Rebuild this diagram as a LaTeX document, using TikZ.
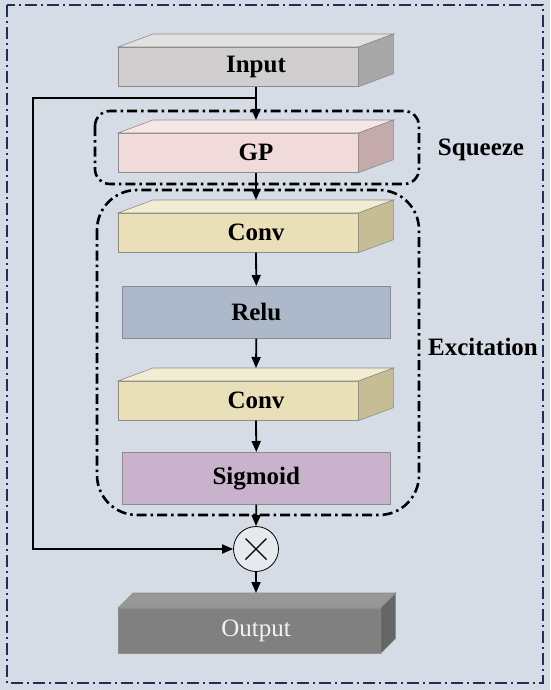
\documentclass[tikz,border=0pt]{standalone}
\usepackage{fontspec}
\setmainfont{Liberation Serif}
\usetikzlibrary{calc,arrows.meta}
\definecolor{bgc}{HTML}{D6DCE5}
\definecolor{framec}{HTML}{1F2F55}
\definecolor{edgec}{HTML}{8C8C8C}
\definecolor{inF}{HTML}{D0CECE}\definecolor{inT}{HTML}{E2E1E1}\definecolor{inS}{HTML}{A8A8A8}
\definecolor{gpF}{HTML}{F0DADA}\definecolor{gpT}{HTML}{F6E6E6}\definecolor{gpS}{HTML}{C5AAAB}
\definecolor{cvF}{HTML}{E9E0B9}\definecolor{cvT}{HTML}{F2ECD2}\definecolor{cvS}{HTML}{C7BD95}
\definecolor{reF}{HTML}{ADB9CA}
\definecolor{sgF}{HTML}{C9B2CB}
\definecolor{ouF}{HTML}{808080}\definecolor{ouT}{HTML}{979797}\definecolor{ouS}{HTML}{666666}
\tikzset{
  face/.style={draw=edgec, line width=0.6pt, inner sep=0pt, anchor=north west},
  lbl/.style={font=\fontsize{25}{29}\selectfont\bfseries, inner sep=0pt},
  olbl/.style={font=\fontsize{25}{29}\selectfont, text=white!95!black, inner sep=0pt},
  arr/.style={line width=1.8pt, -{Triangle[length=11pt,width=9pt]}},
  groupbox/.style={line width=2.6pt, dash pattern=on 10pt off 4pt on 2.5pt off 4pt},
  outerframe/.style={draw=framec, line width=1.5pt, dash pattern=on 12pt off 4pt on 2pt off 4pt}
}
% \mycube{name}{x}{y}{w}{h}{dx}{dy}{front}{top}
\newcommand{\mycube}[9]{%
  \node[face, fill=#8, minimum width=#4pt, minimum height=#5pt] (#1) at (#2,#3) {};
  \draw[draw=edgec, line width=0.6pt, fill=#9] (#1.north west) -- ++(#6,#7) -- ($(#1.north east)+(#6,#7)$) -- (#1.north east) -- cycle;
}
\newcommand{\myside}[4]{%
  \draw[draw=edgec, line width=0.6pt, fill=#4] (#1.north east) -- ++(#2,#3) -- ($(#1.south east)+(#2,#3)$) -- (#1.south east) -- cycle;
}
\begin{document}
\begin{tikzpicture}[x=1pt, y=-1pt]
\useasboundingbox (0,0) rectangle (550,690);
\fill[bgc] (0,0) rectangle (550,690);
\draw[outerframe] (7,5) rectangle (543,683);

% Input
\mycube{in}{118}{47}{240}{39}{35}{-13}{inF}{inT}
\myside{in}{35}{-13}{inS}
\node[lbl] (inL) at (256,66.5) {Input};
% GP
\mycube{gp}{118}{133}{240}{39}{35}{-13}{gpF}{gpT}
\myside{gp}{35}{-13}{gpS}
\node[lbl] (gpL) at (256,152.5) {GP};
\coordinate (gpB) at (256,120);
% Conv 1
\mycube{cv1}{118}{213}{240}{39}{35}{-13}{cvF}{cvT}
\myside{cv1}{35}{-13}{cvS}
\node[lbl] (cv1L) at (256,232.5) {Conv};
\coordinate (cv1B) at (256,200);
% Relu
\node[face, fill=reF, minimum width=268pt, minimum height=52pt] (re) at (122,286) {};
\node[lbl] (reL) at (re.center) {Relu};
% Conv 2
\mycube{cv2}{118}{381}{240}{39}{35}{-13}{cvF}{cvT}
\myside{cv2}{35}{-13}{cvS}
\node[lbl] (cv2L) at (256,400.5) {Conv};
\coordinate (cv2B) at (256,368);
% Sigmoid
\node[face, fill=sgF, minimum width=268pt, minimum height=52pt] (sg) at (122,452) {};
\node[lbl] (sgL) at (sg.center) {Sigmoid};
% Multiply
\node[circle, draw=black, line width=0.8pt, fill=bgc!60!white, minimum size=45pt, inner sep=0pt] (mul) at (256,549) {};
\draw[line width=1.2pt] ($(mul.center)+(-10.5,-10.5)$) -- ($(mul.center)+(10.5,10.5)$);
\draw[line width=1.2pt] ($(mul.center)+(-10.5,10.5)$) -- ($(mul.center)+(10.5,-10.5)$);
% Output
\mycube{ou}{118}{608}{262}{45}{15}{-15}{ouF}{ouT}
\myside{ou}{15}{-15}{ouS}
\node[olbl] (ouL) at (256,630.5) {Output};
\coordinate (ouB) at (256,593);

% group boxes
\draw[groupbox, rounded corners=15pt] (95,111) rectangle (419,184);
\draw[groupbox, rounded corners=40pt] (97,190) rectangle (419,515);
\node[lbl] (sq) at (481,150) {Squeeze};
\node[lbl] (ex) at (483,347) {Excitation};

% connectors
\coordinate (split) at (256,98);
\coordinate (fbB) at (33,549);
\draw[arr] (inL |- in.south) -- (gpB);
\draw[arr] (gpL |- gp.south) -- (cv1B);
\draw[arr] (cv1L |- cv1.south) -- (re.north);
\draw[arr] (re.south) -- (cv2B);
\draw[arr] (cv2L |- cv2.south) -- (sg.north);
\draw[arr] (sg.south) -- (mul.north);
\draw[arr] (mul.south) -- (ouB);
\draw[arr] (split) -| (fbB) -- (mul.west);
\end{tikzpicture}
\end{document}
